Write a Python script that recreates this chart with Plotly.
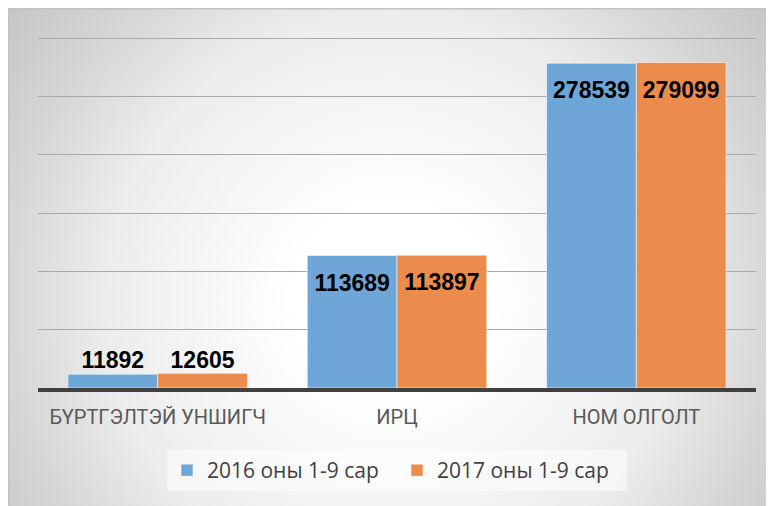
import base64
import plotly.graph_objects as go

categories = ["БҮРТГЭЛТЭЙ УНШИГЧ", "ИРЦ", "НОМ ОЛГОЛТ"]
series_names = ["2016 оны 1-9 сар", "2017 оны 1-9 сар"]
values_2016 = [11892, 113689, 278539]
values_2017 = [12605, 113897, 279099]
label_positions = ["top center", "bottom center", "bottom center"]
label_marker_sizes = [0, 27, 27]

colors = ["#6fa6d8", "#ec8c4c"]

W, H = 774, 506
L, R, T, B = 30, 26, 29, 126
PW, PH = W - L - R, H - T - B

# radial gradient background as an SVG image covering the whole paper
svg = f'''<svg xmlns="http://www.w3.org/2000/svg" width="{W}" height="{H}" viewBox="0 0 {W} {H}">
<defs><radialGradient id="g" gradientUnits="userSpaceOnUse" cx="383" cy="292" r="480">
<stop offset="0" stop-color="#ffffff"/>
<stop offset="0.2" stop-color="#ffffff"/>
<stop offset="0.6" stop-color="#ececec"/>
<stop offset="0.8" stop-color="#d6d6d6"/>
<stop offset="1" stop-color="#c6c6c6"/>
</radialGradient></defs>
<rect x="0.75" y="0.75" width="{W + 2}" height="{H + 2}" fill="url(#g)" stroke="#c2c2c2" stroke-width="1.5"/>
</svg>'''
src = "data:image/svg+xml;base64," + base64.b64encode(svg.encode("utf-8")).decode("ascii")

fig = go.Figure()
for name, vals, col in zip(series_names, [values_2016, values_2017], colors):
    fig.add_trace(go.Bar(
        x=categories, y=vals, name=name, offsetgroup=name,
        marker=dict(color=col, line=dict(color="rgba(255,255,255,0.55)", width=1)),
        hoverinfo="skip",
    ))
for name, vals in zip(series_names, [values_2016, values_2017]):
    fig.add_trace(go.Scatter(
        x=categories, y=vals, mode="markers+text", offsetgroup=name,
        text=[str(v) for v in vals], textposition=label_positions,
        marker=dict(size=label_marker_sizes, opacity=0),
        textfont=dict(family="Liberation Sans", size=23, color="#000000", weight="bold"),
        showlegend=False, hoverinfo="skip", cliponaxis=False,
    ))

fig.update_layout(
    width=W, height=H,
    margin=dict(l=L, r=R, t=T, b=B, pad=0),
    paper_bgcolor="#ffffff",
    plot_bgcolor="rgba(0,0,0,0)",
    barmode="group", bargap=0.25, bargroupgap=0,
    scattermode="group", scattergap=0.25,
    images=[dict(source=src, xref="paper", yref="paper",
                 x=-L / PW, y=(H - B) / PH,
                 sizex=W / PW, sizey=H / PH,
                 xanchor="left", yanchor="top", sizing="stretch", layer="below")],
    xaxis=dict(showline=True, linecolor="#404040", linewidth=3.5,
               tickfont=dict(family="Roboto", size=20, color="#595959"),
               ticks="", ticklabelstandoff=8, showgrid=False),
    yaxis=dict(range=[0, 301000], tickmode="linear", tick0=0, dtick=50000, showticklabels=False,
               showgrid=True, gridcolor="#a9a9a9", gridwidth=1, zeroline=False,
               ticks=""),
    legend=dict(orientation="h", x=0.5, xanchor="center", y=(H - B - 442) / PH, yanchor="top",
                bgcolor="rgba(255,255,255,0.5)", font=dict(family="Open Sans", size=21, color="#404040"),
                borderwidth=0, itemwidth=30, entrywidth=185, entrywidthmode="pixels"),
    showlegend=True,
)

fig.write_html("out.html")
